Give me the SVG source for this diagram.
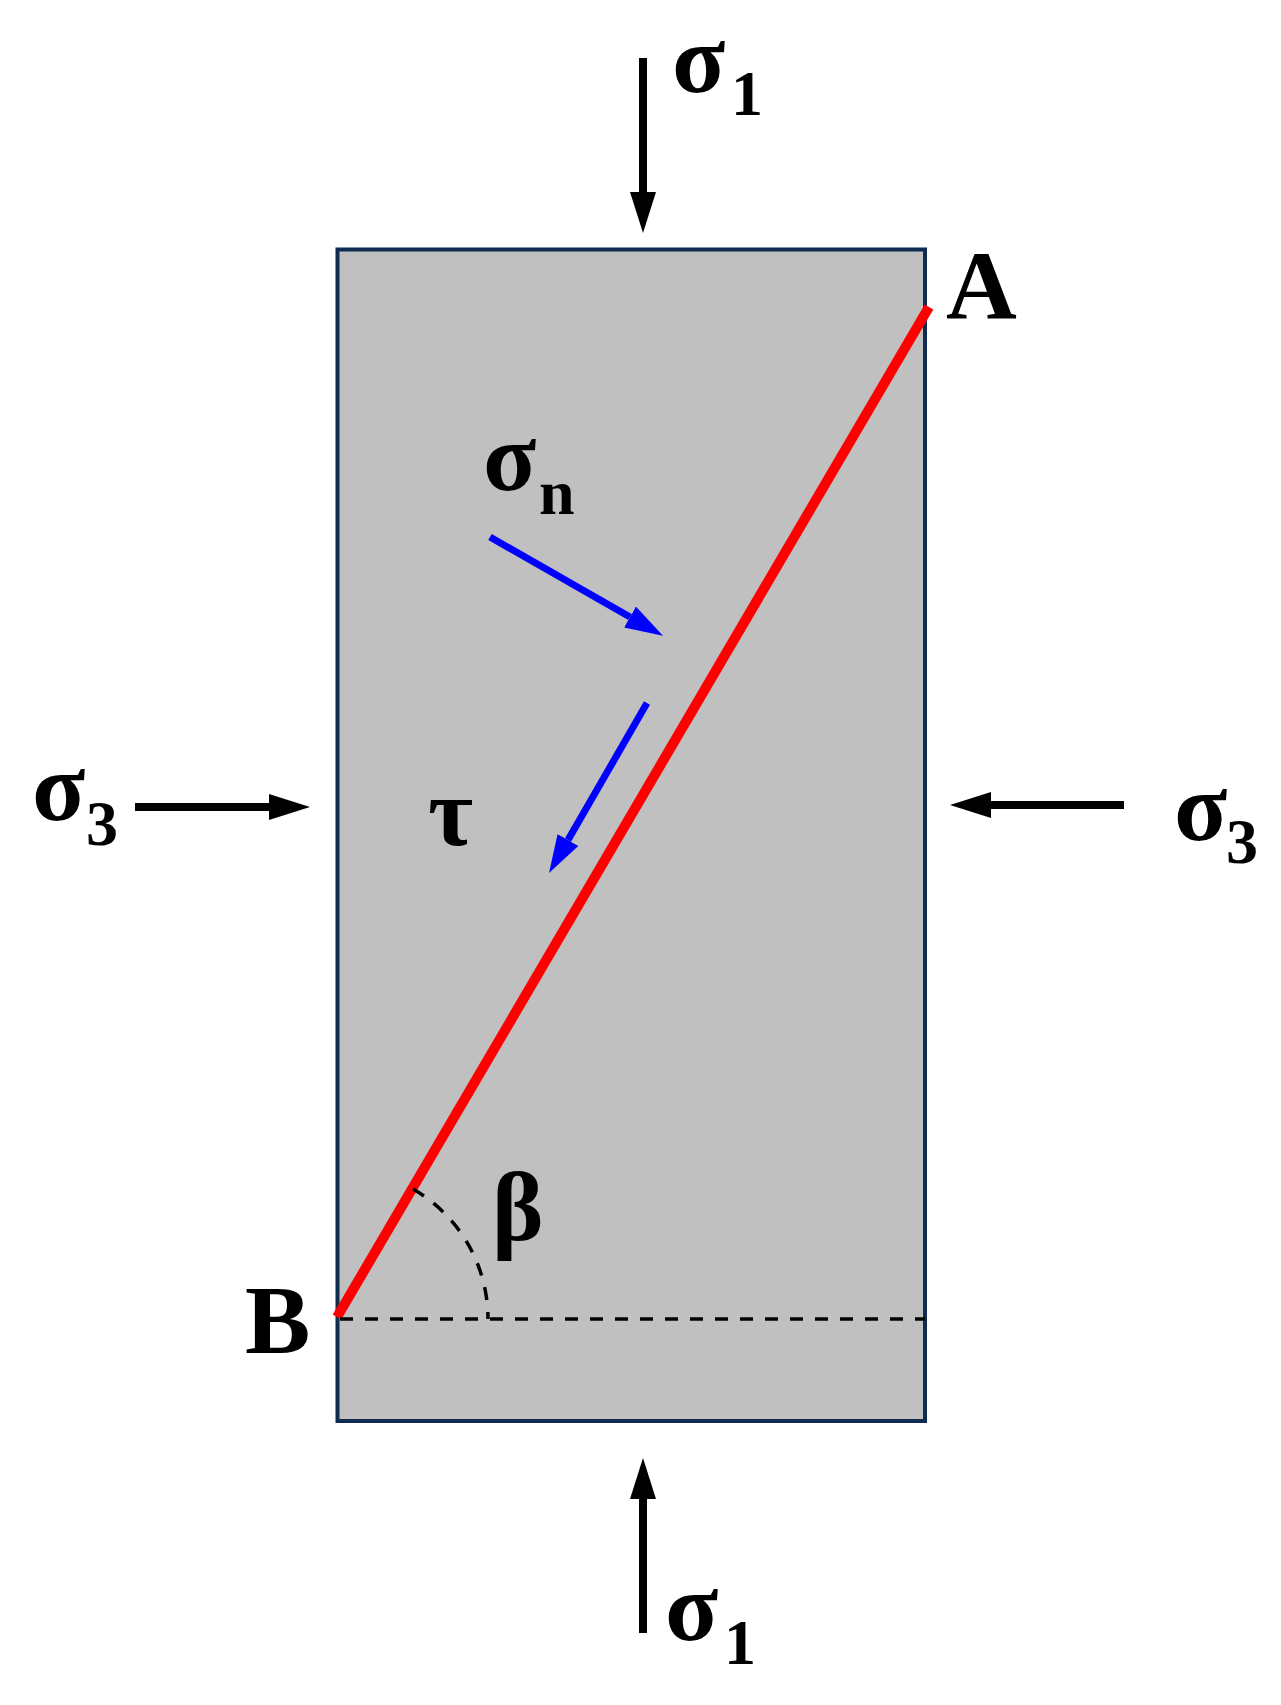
<svg xmlns="http://www.w3.org/2000/svg" width="1281" height="1705" viewBox="0 0 1281 1705">
<defs>
<marker id="ahBlack" markerUnits="userSpaceOnUse" markerWidth="42" markerHeight="26" refX="0" refY="13" orient="auto">
<path d="M0,0 L41,13 L0,26 z" fill="#000"/>
</marker>
<marker id="ahBlue" markerUnits="userSpaceOnUse" markerWidth="40" markerHeight="24" refX="0" refY="12" orient="auto">
<path d="M0,0 L38,12 L0,24 z" fill="#0000ff"/>
</marker>
</defs>
<style>
.lbl{font-family:"Liberation Serif","Times New Roman",serif;font-weight:bold;fill:#000}
.big{font-size:98px}
.sub{font-size:64px}
.force{stroke:#000;stroke-width:8;fill:none;marker-end:url(#ahBlack)}
.stress{stroke:#0000ff;stroke-width:7;fill:none;marker-end:url(#ahBlue)}
.dash{fill:none;stroke:#000;stroke-width:3.5;stroke-dasharray:13,12}
</style>
<rect width="1281" height="1705" fill="#fff"/>
<g id="specimen">
<rect x="337.5" y="249.5" width="587.5" height="1171.5" fill="#c0c0c0" stroke="#0f2b50" stroke-width="4"/>
</g>
<g id="plane">
<line x1="337" y1="1317" x2="929" y2="307" stroke="#ff0000" stroke-width="10"/>
<line class="dash" x1="340" y1="1319" x2="925" y2="1319"/>
<path class="dash" d="M 413 1189 A 150 150 0 0 1 488 1319"/>
</g>
<g id="connectors">
<line class="force" x1="643" y1="58" x2="643" y2="192"/>
<line class="force" x1="643" y1="1633" x2="643" y2="1499"/>
<line class="force" x1="135" y1="807" x2="269" y2="807"/>
<line class="force" x1="1124" y1="805" x2="991" y2="805"/>
<line class="stress" x1="490" y1="537" x2="630" y2="617"/>
<line class="stress" x1="647" y1="703" x2="568" y2="840"/>
</g>
<g id="label-sigma1-top"><text class="lbl big" x="672" y="92">σ</text><text class="lbl sub" x="731" y="115">1</text></g>
<g id="label-sigma1-bottom"><text class="lbl big" x="665" y="1640">σ</text><text class="lbl sub" x="724" y="1664">1</text></g>
<g id="label-sigma3-left"><text class="lbl big" x="32" y="820">σ</text><text class="lbl sub" x="86" y="845">3</text></g>
<g id="label-sigma3-right"><text class="lbl big" x="1174" y="840">σ</text><text class="lbl sub" x="1226" y="863">3</text></g>
<g id="label-sigman"><text class="lbl big" x="483" y="490">σ</text><text class="lbl sub" x="539" y="514">n</text></g>
<g id="label-tau"><text class="lbl big" x="428" y="845">τ</text></g>
<g id="label-beta"><text class="lbl big" x="492" y="1240">β</text></g>
<g id="label-A"><text class="lbl big" x="946" y="318">A</text></g>
<g id="label-B"><text class="lbl big" x="245" y="1353">B</text></g>
</svg>
